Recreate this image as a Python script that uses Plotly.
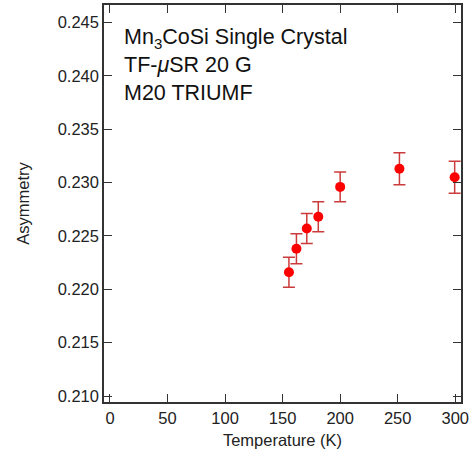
import plotly.graph_objects as go

temperature = [155.5, 162, 171, 181, 200, 251.5, 299.5]
asymmetry = [0.2216, 0.2238, 0.2257, 0.2268, 0.2296, 0.2313, 0.2305]
asym_err = [0.0014, 0.0014, 0.0014, 0.0014, 0.0014, 0.0015, 0.0015]

x_ticks = [0, 50, 100, 150, 200, 250, 300]
y_ticks = [0.210, 0.215, 0.220, 0.225, 0.230, 0.235, 0.240, 0.245]

font_family = "Liberation Sans, Arial, sans-serif"

fig = go.Figure()
fig.add_trace(go.Scatter(
    x=temperature, y=asymmetry, mode="markers",
    marker=dict(color="#ff0000", size=10),
    error_y=dict(type="data", array=asym_err, visible=True,
                 color="#cc3b3b", thickness=1.5, width=6),
    showlegend=False,
))

axis_common = dict(
    showline=True, linecolor="#333333", linewidth=1.5, mirror="allticks",
    ticks="inside", ticklen=8, tickwidth=1.2, tickcolor="#333333",
    showgrid=False, zeroline=False,
    tickfont=dict(family=font_family, size=16.5, color="#222222"),
)

fig.update_layout(
    width=472, height=457,
    margin=dict(l=104, r=10, t=3, b=55),
    paper_bgcolor="white", plot_bgcolor="white",
    font=dict(family=font_family, color="#222222"),
    xaxis=dict(range=[-5.2, 305], tickvals=x_ticks,
               title=dict(text="Temperature (K)", font=dict(size=16.5), standoff=9),
               **axis_common),
    yaxis=dict(range=[0.20944, 0.24665], tickvals=y_ticks, tickformat=".3f",
               title=dict(text="Asymmetry", font=dict(size=16.5), standoff=24),
               **axis_common),
    annotations=[dict(
        xref="paper", yref="paper", x=0.05, y=0.955, xanchor="left", yanchor="top",
        align="left", showarrow=False,
        text="Mn<sub>3</sub>CoSi Single Crystal<br>TF-<i>μ</i>SR 20 G<br>M20 TRIUMF",
        font=dict(family=font_family, size=21.5, color="#111111"),
    )],
)

fig.write_html("out.html", config={"displayModeBar": False},
               post_script="document.body.style.margin='0';document.body.style.overflow='hidden';")
